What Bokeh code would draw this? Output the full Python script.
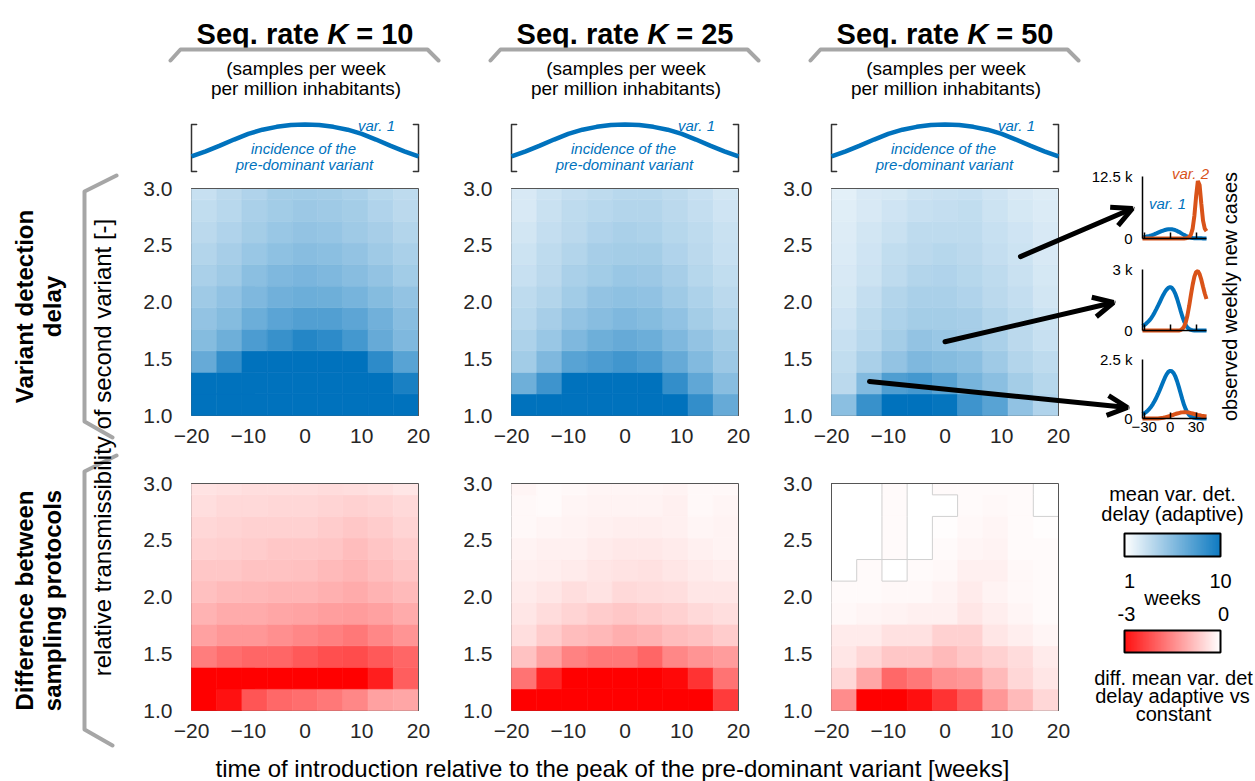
import numpy as np
from bokeh.plotting import figure
from bokeh.models import (Range1d, LinearAxis, FixedTicker, PrintfTickFormatter,
                          ColumnDataSource, Arrow, OpenHead)
from bokeh.transform import linear_cmap
from bokeh.core.properties import value
from bokeh.embed import file_html
from bokeh.resources import INLINE

# ------------------------------------------------------------------ data
seq_rates = ["10", "25", "50"]
intro_edges = [-20.0, -15.56, -11.11, -6.67, -2.22, 2.22, 6.67, 11.11, 15.56, 20.0]
trans_edges = [1.0, 1.19, 1.38, 1.57, 1.76, 1.95, 2.14, 2.33, 2.52, 2.71, 2.90, 3.0]
x_ticks = [-20, -10, 0, 10, 20]
y_ticks = [1.0, 1.5, 2.0, 2.5, 3.0]

# mean variant detection delay [weeks], rows from R=1.0 (bottom) upwards
delay_k10 = [
    [10, 10, 10, 10, 10, 10, 10, 10, 10],
    [10, 10, 10, 10, 10, 10, 10, 10, 9.1],
    [6.4, 8.2, 10, 10, 10, 10, 10, 8.4, 6.9],
    [5.3, 6.1, 7.3, 8.0, 8.7, 8.4, 7.6, 6.4, 5.5],
    [4.8, 5.3, 6.2, 6.8, 7.1, 7.1, 6.7, 6.0, 5.2],
    [4.4, 4.9, 5.5, 6.0, 6.2, 6.1, 5.8, 5.3, 4.8],
    [4.0, 4.4, 5.1, 5.5, 5.7, 5.5, 5.2, 4.8, 4.3],
    [3.7, 4.1, 4.6, 5.0, 5.2, 5.1, 4.8, 4.4, 4.0],
    [3.4, 3.8, 4.2, 4.6, 4.8, 4.7, 4.4, 4.1, 3.7],
    [3.2, 3.5, 4.0, 4.3, 4.5, 4.4, 4.2, 3.8, 3.4],
    [3.0, 3.4, 3.8, 4.2, 4.3, 4.2, 4.0, 3.6, 3.3],
]
delay_k25 = [
    [10, 10, 10, 10, 10, 10, 10, 8.2, 6.4],
    [6.1, 7.8, 10, 10, 10, 10, 8.2, 6.6, 5.2],
    [4.3, 5.5, 6.9, 7.3, 7.7, 7.3, 6.4, 5.4, 4.5],
    [3.9, 4.6, 5.5, 6.1, 6.4, 6.2, 5.5, 4.8, 4.2],
    [3.5, 4.1, 4.8, 5.2, 5.5, 5.3, 4.9, 4.2, 3.7],
    [3.3, 3.7, 4.3, 4.8, 5.0, 4.9, 4.4, 3.9, 3.4],
    [3.0, 3.4, 4.0, 4.3, 4.6, 4.5, 4.1, 3.6, 3.2],
    [2.8, 3.3, 3.7, 4.1, 4.2, 4.2, 3.8, 3.4, 3.0],
    [2.6, 3.1, 3.4, 3.8, 4.0, 3.9, 3.6, 3.3, 2.9],
    [2.4, 2.9, 3.3, 3.5, 3.7, 3.7, 3.4, 3.1, 2.7],
    [2.4, 2.8, 3.1, 3.3, 3.5, 3.5, 3.3, 3.0, 2.6],
]
delay_k50 = [
    [5.1, 8.0, 10, 10, 9.8, 7.8, 6.9, 4.9, 3.8],
    [3.4, 5.4, 7.2, 7.6, 6.9, 5.8, 5.1, 4.2, 3.6],
    [3.2, 4.0, 4.8, 5.5, 5.3, 5.1, 4.4, 3.7, 3.3],
    [3.0, 3.5, 4.2, 4.8, 4.6, 4.4, 4.0, 3.4, 3.0],
    [2.7, 3.3, 3.9, 4.2, 4.2, 4.1, 3.7, 3.3, 2.8],
    [2.5, 3.1, 3.7, 4.0, 4.0, 3.8, 3.4, 3.1, 2.6],
    [2.4, 2.8, 3.3, 3.7, 3.8, 3.6, 3.3, 2.9, 2.5],
    [2.3, 2.7, 3.2, 3.4, 3.6, 3.4, 3.1, 2.8, 2.4],
    [2.2, 2.6, 2.9, 3.3, 3.3, 3.3, 3.0, 2.7, 2.4],
    [2.1, 2.4, 2.7, 3.0, 3.1, 3.2, 2.8, 2.5, 2.3],
    [2.0, 2.4, 2.5, 2.8, 2.9, 3.0, 2.7, 2.4, 2.2],
]

# difference of mean detection delay, adaptive minus constant [weeks]
diff_k10 = [
    [-3.0, -2.8, -2.0, -1.77, -1.71, -1.59, -1.41, -1.11, -1.05],
    [-3.0, -3.0, -3.0, -3.0, -3.0, -3.0, -3.0, -2.64, -1.89],
    [-1.53, -1.71, -1.8, -1.8, -1.95, -2.07, -2.1, -1.95, -1.8],
    [-1.11, -1.23, -1.23, -1.32, -1.41, -1.5, -1.59, -1.41, -1.26],
    [-0.9, -0.99, -0.99, -1.05, -1.08, -1.14, -1.17, -1.11, -0.99],
    [-0.75, -0.81, -0.84, -0.87, -0.87, -0.93, -0.99, -0.9, -0.81],
    [-0.66, -0.66, -0.72, -0.72, -0.75, -0.81, -0.87, -0.78, -0.69],
    [-0.54, -0.57, -0.6, -0.66, -0.66, -0.69, -0.78, -0.69, -0.6],
    [-0.48, -0.51, -0.54, -0.54, -0.54, -0.6, -0.66, -0.6, -0.51],
    [-0.39, -0.45, -0.45, -0.48, -0.48, -0.51, -0.54, -0.51, -0.45],
    [-0.33, -0.36, -0.39, -0.39, -0.39, -0.42, -0.39, -0.36, -0.3],
]
diff_k25 = [
    [-3.0, -3.0, -3.0, -3.0, -3.0, -3.0, -3.0, -3.0, -2.3],
    [-1.65, -2.58, -3.0, -3.0, -3.0, -3.0, -2.9, -2.4, -1.65],
    [-0.72, -1.11, -1.47, -1.59, -1.59, -1.8, -1.41, -1.26, -1.17],
    [-0.39, -0.6, -0.78, -0.84, -0.96, -0.9, -0.78, -0.72, -0.6],
    [-0.3, -0.42, -0.51, -0.6, -0.66, -0.6, -0.54, -0.45, -0.39],
    [-0.24, -0.3, -0.39, -0.33, -0.45, -0.42, -0.39, -0.3, -0.3],
    [-0.18, -0.21, -0.24, -0.3, -0.33, -0.36, -0.3, -0.24, -0.21],
    [-0.15, -0.18, -0.18, -0.24, -0.27, -0.27, -0.24, -0.18, -0.15],
    [-0.09, -0.12, -0.15, -0.18, -0.21, -0.21, -0.18, -0.12, -0.15],
    [-0.09, -0.06, -0.12, -0.15, -0.15, -0.15, -0.18, -0.09, -0.12],
    [-0.12, -0.06, -0.09, -0.12, -0.12, -0.12, -0.15, -0.09, -0.09],
]
diff_k50 = [
    [-1.35, -3.0, -3.0, -2.82, -2.4, -1.95, -1.23, -0.81, -0.48],
    [-0.48, -1.05, -1.77, -1.59, -1.29, -1.23, -0.81, -0.48, -0.3],
    [-0.3, -0.48, -0.66, -0.66, -0.81, -0.66, -0.54, -0.42, -0.24],
    [-0.24, -0.24, -0.36, -0.36, -0.54, -0.54, -0.3, -0.21, -0.12],
    [-0.09, -0.12, -0.15, -0.18, -0.18, -0.3, -0.21, -0.12, -0.06],
    [-0.06, -0.06, -0.09, -0.09, -0.15, -0.24, -0.15, -0.09, -0.06],
    [None, -0.06, None, -0.06, -0.09, -0.18, -0.18, -0.09, -0.06],
    [None, None, -0.06, None, -0.06, -0.12, -0.15, -0.06, -0.06],
    [None, None, -0.06, None, -0.03, -0.09, -0.12, -0.06, -0.03],
    [None, None, -0.06, None, None, -0.06, -0.09, -0.06, None],
    [None, None, -0.06, None, -0.06, -0.06, -0.06, -0.06, None],
]

# sketch of the incidence of the pre-dominant variant (relative)
incidence_weeks = [-20, -17.5, -15, -12.5, -10, -7.5, -5, -2.5, 0,
                   2.5, 5, 7.5, 10, 12.5, 15, 17.5, 20]
incidence_var1 = [0.32, 0.43, 0.55, 0.68, 0.8, 0.89, 0.95, 0.99, 1.0,
                  0.99, 0.95, 0.89, 0.8, 0.68, 0.55, 0.43, 0.32]

# example epidemics: observed weekly new cases [thousands]
inset_weeks = [-32, -30, -28, -26, -24, -22, -20, -18, -16, -14, -12, -10, -8, -6,
               -4, -2, 0, 2, 4, 6, 8, 10, 12, 14, 16, 18, 20, 22, 24, 26, 28, 30,
               32, 34, 36, 38, 40, 42]
cases_a_var1 = [0.25, 0.3, 0.36, 0.44, 0.53, 0.63, 0.75, 0.88, 1.02, 1.17, 1.32, 1.47, 1.6,
                1.72, 1.81, 1.87, 1.89, 1.86, 1.79, 1.67, 1.52, 1.34, 1.14, 0.93, 0.73,
                0.54, 0.38, 0.25, 0.16, 0.1, 0.07, 0.05, 0.04, 0.03, 0.03, 0.02, 0.02, 0.02]
cases_a_var2 = [0, 0, 0, 0, 0, 0, 0, 0, 0, 0, 0, 0, 0, 0, 0, 0, 0, 0, 0, 0, 0, 0, 0, 0,
                0.02, 0.05, 0.12, 0.3, 0.8, 2.0, 4.6, 8.5, 11.6, 10.8, 7.0, 3.6, 2.0, 1.5]
cases_b_var1 = [0.22, 0.27, 0.33, 0.41, 0.5, 0.6, 0.74, 0.89, 1.05, 1.22, 1.4, 1.58, 1.75,
                1.9, 2.02, 2.1, 2.14, 2.1, 1.98, 1.8, 1.56, 1.28, 0.98, 0.7, 0.46, 0.27,
                0.14, 0.07, 0.03, 0.01, 0, 0, 0, 0, 0, 0, 0, 0]
cases_b_var2 = [0, 0, 0, 0, 0, 0, 0, 0, 0, 0, 0, 0, 0, 0, 0, 0, 0, 0, 0, 0, 0, 0,
                0.02, 0.07, 0.18, 0.4, 0.75, 1.22, 1.75, 2.25, 2.65, 2.88, 2.92, 2.78,
                2.5, 2.15, 1.82, 1.55]
cases_c_var1 = [0.18, 0.22, 0.27, 0.33, 0.41, 0.5, 0.61, 0.74, 0.88, 1.04, 1.21, 1.39, 1.57,
                1.74, 1.88, 1.98, 2.02, 2.0, 1.92, 1.78, 1.58, 1.34, 1.08, 0.82, 0.58,
                0.39, 0.25, 0.15, 0.09, 0.05, 0.03, 0.02, 0.01, 0.01, 0, 0, 0, 0]
cases_c_var2 = [0, 0, 0, 0, 0, 0, 0, 0, 0, 0, 0.01, 0.02, 0.03, 0.05, 0.07, 0.09, 0.11,
                0.14, 0.16, 0.19, 0.21, 0.23, 0.25, 0.26, 0.27, 0.27, 0.26, 0.25, 0.23,
                0.21, 0.19, 0.17, 0.15, 0.14, 0.12, 0.11, 0.1, 0.09]
inset_ymax = [12.5, 3.0, 2.5]
inset_ylabel = ["12.5 k", "3 k", "2.5 k"]
inset_xticks = [-30, 0, 30]

# scenarios (time of introduction, transmissibility) shown in the example panels
arrow_from = [(13.3, 2.4), (0.0, 1.65), (-13.3, 1.3)]

# ------------------------------------------------------------------ styling
BLUE = "#0072BD"
ORANGE = "#D95319"
GREY = "#a6a6a6"
TICK = "#262626"
FONT = "Liberation Sans"
W, H = 1255, 781
COL_LEFT = [191, 511, 831]
PW = 227
ROW_TOP = [188, 483]
PH = 227


def ramp(c0, c1, n=256):
    out = []
    for i in range(n):
        f = i / (n - 1)
        out.append("#%02x%02x%02x" % tuple(round(a + (b - a) * f) for a, b in zip(c0, c1)))
    return out


blues = ramp((255, 255, 255), (0, 114, 189))
reds = ramp((255, 0, 0), (255, 255, 255))

p = figure(width=W, height=H, x_range=Range1d(0, W), y_range=Range1d(H, 0),
           x_axis_location=None, y_axis_location=None,
           output_backend="svg", toolbar_location=None, min_border=0,
           outline_line_color=None, background_fill_color="white",
           border_fill_color="white")
p.xgrid.visible = False
p.ygrid.visible = False

xr, yr = {}, {}


def add_frame(name, left, right, top, bottom, x0, x1, y0, y1):
    """Ranges that place data [x0,x1]x[y0,y1] in the pixel box given."""
    sx = (x1 - x0) / (right - left)
    sy = (y1 - y0) / (bottom - top)
    xr[name] = Range1d(x0 - left * sx, x0 + (W - left) * sx)
    yr[name] = Range1d(y0 - (H - bottom) * sy, y0 + bottom * sy)
    return dict(x_range_name=name, y_range_name=name)


def txt(x, y, s, size, style="normal", color="black", align="center",
        baseline="middle", angle=0.0, **rng):
    p.text(x=[x], y=[y], text=[s], text_font=value(FONT), text_font_size=f"{size}px",
           text_font_style=style, text_color=color, text_align=align,
           text_baseline=baseline, angle=angle, **rng)


def line(xs, ys, color, width, **rng):
    p.line(xs, ys, line_color=color, line_width=width, line_join="round",
           line_cap="round", **rng)


# ------------------------------------------------------------------ heatmaps
grids = [[delay_k10, delay_k25, delay_k50], [diff_k10, diff_k25, diff_k50]]
maps = [(blues, 1, 10), (reds, -3, 0)]

for r in range(2):
    for c in range(3):
        nm = f"m{r}{c}"
        L, T = COL_LEFT[c], ROW_TOP[r]
        rng = add_frame(nm, L, L + PW, T, T + PH, -20, 20, 1.0, 3.0)
        grid = grids[r][c]
        # frame lines left/bottom underneath the cells
        line([-20, -20, 20], [3.0, 1.0, 1.0], "#555555", 1, **rng)
        cols = dict(left=[], right=[], bottom=[], top=[], v=[])
        gap_x, gap_y = [], []
        for i, row in enumerate(grid):
            for j, v in enumerate(row):
                if v is None:
                    # outline the edges where a missing cell meets a filled one
                    nb = [(i, j - 1, [intro_edges[j]] * 2, [trans_edges[i], trans_edges[i + 1]]),
                          (i, j + 1, [intro_edges[j + 1]] * 2, [trans_edges[i], trans_edges[i + 1]]),
                          (i - 1, j, [intro_edges[j], intro_edges[j + 1]], [trans_edges[i]] * 2),
                          (i + 1, j, [intro_edges[j], intro_edges[j + 1]], [trans_edges[i + 1]] * 2)]
                    for ii, jj, ex, ey in nb:
                        if 0 <= ii < len(grid) and 0 <= jj < len(row) and grid[ii][jj] is not None:
                            gap_x.append(ex)
                            gap_y.append(ey)
                    continue
                cols["left"].append(intro_edges[j])
                cols["right"].append(intro_edges[j + 1])
                cols["bottom"].append(trans_edges[i])
                cols["top"].append(trans_edges[i + 1])
                cols["v"].append(v)
        pal, lo, hi = maps[r]
        cm = linear_cmap("v", pal, lo, hi)
        p.quad(left="left", right="right", bottom="bottom", top="top",
               source=ColumnDataSource(cols), fill_color=cm, line_color=cm,
               line_width=0.6, **rng)
        if gap_x:
            p.multi_line(gap_x, gap_y, line_color="#d0d0d0", line_width=1, **rng)
        line([-20, 20, 20], [3.0, 3.0, 1.0], "#555555", 1, **rng)

        xa = LinearAxis(fixed_location=1.0, bounds=(-20, 20),
                        ticker=FixedTicker(ticks=x_ticks), axis_line_color=None,
                        major_tick_line_color=None, minor_tick_line_color=None,
                        major_label_standoff=7, major_label_text_font=FONT,
                        major_label_text_font_size="21px",
                        major_label_text_color=TICK, **rng)
        p.add_layout(xa, "below")
        ya = LinearAxis(fixed_location=-20, bounds=(1.0, 3.0),
                        ticker=FixedTicker(ticks=y_ticks),
                        formatter=PrintfTickFormatter(format="%.1f"),
                        axis_line_color=None, major_tick_line_color=None,
                        minor_tick_line_color=None, major_label_standoff=13,
                        major_label_text_font=FONT, major_label_text_font_size="21px",
                        major_label_text_color=TICK, **rng)
        p.add_layout(ya, "left")

# ------------------------------------------------------------------ column headers
for c in range(3):
    L = COL_LEFT[c]
    R = L + PW
    cx = L + PW / 2
    # title with italic K
    start = cx - 108.4
    txt(start, 33, "Seq. rate", 29, "bold", align="left", baseline="alphabetic")
    txt(start + 130.6, 33, "K", 29, "bold italic", align="left", baseline="alphabetic")
    txt(start + 159.6, 33, "= " + seq_rates[c], 29, "bold", align="left",
        baseline="alphabetic")
    line([L - 21, L - 11, R + 9, R + 20], [60, 49, 49, 60], GREY, 4)
    txt(cx + 1, 68, "(samples per week", 19)
    txt(cx + 1, 88, "per million inhabitants)", 19)

    hn = f"h{c}"
    rng = add_frame(hn, L, R, 124, 171, -20, 20, 0, 1)
    line([-19.1, -20, -20, -19.1], [1, 1, 0, 0], "#333333", 1.5, **rng)
    line([19.1, 20, 20, 19.1], [1, 1, 0, 0], "#333333", 1.5, **rng)
    p.line(incidence_weeks, incidence_var1, line_color=BLUE, line_width=4.5, **rng)
    txt(L + 185, 125, "var. 1", 15, "italic", BLUE)
    txt(L + 112, 148, "incidence of the", 15, "italic", BLUE)
    txt(L + 113, 164, "pre-dominant variant", 15, "italic", BLUE)

# ------------------------------------------------------------------ row labels
line([116, 84, 84, 112], [175, 191, 421, 437], GREY, 4)
line([116, 84, 84, 112], [455, 471, 729, 745], GREY, 4)
txt(24, 306, "Variant detection", 24, "bold", angle=np.pi / 2)
txt(52, 306, "delay", 24, "bold", angle=np.pi / 2)
txt(24, 600, "Difference between", 24, "bold", angle=np.pi / 2)
txt(52, 600, "sampling protocols", 24, "bold", angle=np.pi / 2)
txt(102, 447, "relative transmissibility of second variant [-]", 24, angle=np.pi / 2)
txt(612, 768, "time of introduction relative to the peak of the pre-dominant variant [weeks]", 24)

# ------------------------------------------------------------------ example epidemics
inset_box = [(176, 238), (269, 330), (359, 418)]
inset_cases = [(cases_a_var1, cases_a_var2), (cases_b_var1, cases_b_var2),
               (cases_c_var1, cases_c_var2)]
for k in range(3):
    nm = f"i{k}"
    top, bot = inset_box[k]
    ymax = inset_ymax[k]
    rng = add_frame(nm, 1142, 1206, top, bot, -32, 42, 0, ymax)
    v1, v2 = inset_cases[k]
    p.line(inset_weeks, v1, line_color=BLUE, line_width=4, **rng)
    p.line(inset_weeks, v2, line_color=ORANGE, line_width=4, **rng)
    ya = LinearAxis(fixed_location=-32, bounds=(0, ymax),
                    ticker=FixedTicker(ticks=[0, ymax]),
                    major_label_overrides={0: "0", ymax: inset_ylabel[k]},
                    axis_line_color="black", axis_line_width=1.5,
                    major_tick_line_color=None, minor_tick_line_color=None,
                    major_label_standoff=4, major_label_text_font=FONT,
                    major_label_text_font_size="15px", major_label_text_color="black",
                    **rng)
    p.add_layout(ya, "left")
    xa = LinearAxis(fixed_location=0, bounds=(-32, 42),
                    ticker=FixedTicker(ticks=inset_xticks),
                    axis_line_color="black", axis_line_width=1.5,
                    major_tick_line_color="black", major_tick_line_width=1.5,
                    major_tick_in=6, major_tick_out=0, minor_tick_line_color=None,
                    major_label_standoff=3, major_label_text_font=FONT,
                    major_label_text_font_size="15px",
                    major_label_text_color="black" if k == 2 else None, **rng)
    p.add_layout(xa, "below")

txt(1167, 203, "var. 1", 15, "italic", BLUE)
txt(1190, 173, "var. 2", 15, "italic", ORANGE)
txt(1229, 296, "observed weekly new cases", 20, angle=np.pi / 2)

# arrows from scenarios in the K = 50 panel to the example epidemics
arrow_to_px = [(1132, 208), (1113, 302), (1127, 407)]
L3, T3 = COL_LEFT[2], ROW_TOP[0]
for (t0, r0), (ex, ey) in zip(arrow_from, arrow_to_px):
    t1 = -20 + (ex - L3) / PW * 40
    r1 = 1.0 + (T3 + PH - ey) / PH * 2.0
    p.add_layout(Arrow(end=OpenHead(size=20, line_width=5, line_color="black"),
                       x_start=t0, y_start=r0, x_end=t1, y_end=r1,
                       line_width=5, line_color="black", line_cap="round",
                       x_range_name="m02", y_range_name="m02"))

# ------------------------------------------------------------------ colour legends
for nm, pal, lo, hi, top, bot in [("lb", blues, 1, 10, 533, 556),
                                  ("lr", reds, -3, 0, 630, 652)]:
    rng = add_frame(nm, 1124, 1220, top, bot, lo, hi, 0, 1)
    edges = np.linspace(lo, hi, 97)
    src = ColumnDataSource(dict(left=edges[:-1], right=edges[1:],
                                v=(edges[:-1] + edges[1:]) / 2))
    cm = linear_cmap("v", pal, lo, hi)
    p.quad(left="left", right="right", bottom=0, top=1, source=src,
           fill_color=cm, line_color=cm, line_width=0.5, **rng)
    p.quad(left=[lo], right=[hi], bottom=[0], top=[1], fill_color=None,
           line_color="black", line_width=2, **rng)

txt(1172, 493, "mean var. det.", 20)
txt(1172, 513, "delay (adaptive)", 20)
txt(1129, 580, "1", 20)
txt(1220, 580, "10", 20)
txt(1172, 597, "weeks", 20)
txt(1126, 613, "-3", 20)
txt(1223, 613, "0", 20)
txt(1173, 677, "diff. mean var. det", 20)
txt(1172, 695, "delay adaptive vs", 20)
txt(1173, 713, "constant", 20)

p.extra_x_ranges = xr
p.extra_y_ranges = yr

open("out.html", "w").write(file_html(p, INLINE))
